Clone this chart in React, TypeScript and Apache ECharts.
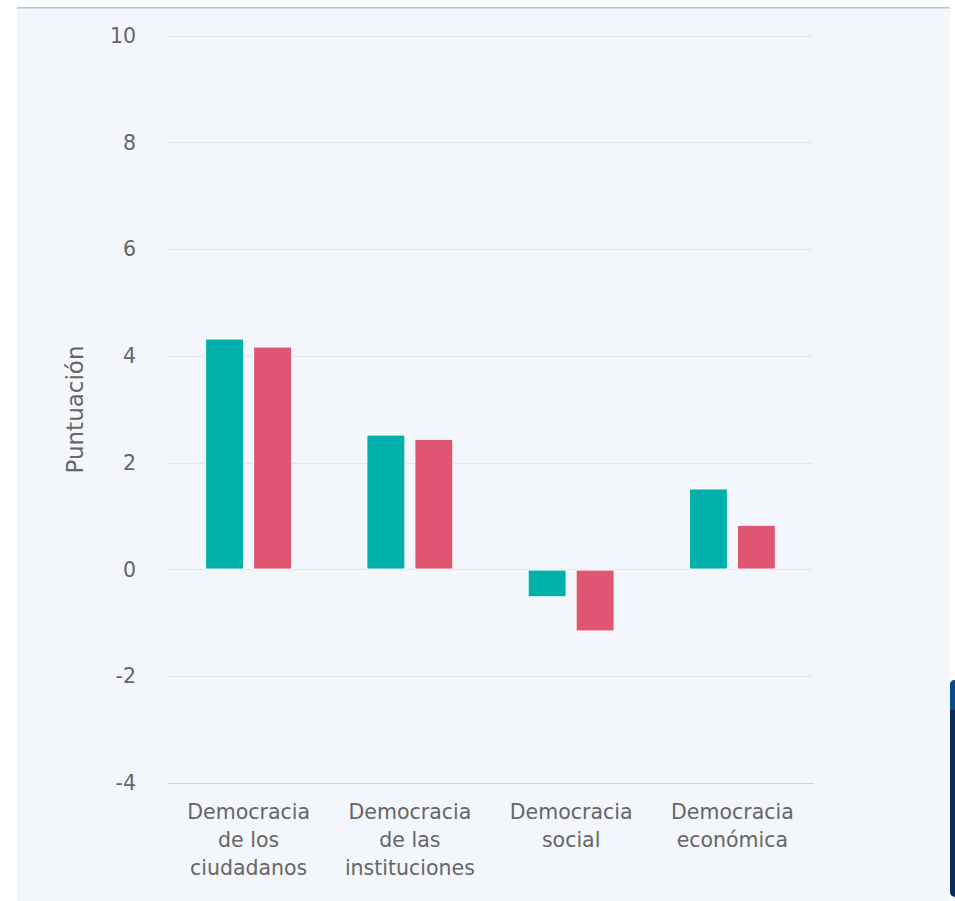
import React, { useEffect, useRef } from "react";
import * as echarts from "echarts";

const categories = [
  "Democracia\nde los\nciudadanos",
  "Democracia\nde las\ninstituciones",
  "Democracia\nsocial",
  "Democracia\neconómica",
];
const seriesA = [4.33, 2.53, -0.52, 1.52];
const seriesB = [4.18, 2.45, -1.16, 0.84];
const yTicks = { min: -4, max: 10, interval: 2 };

export default function App() {
  const ref = useRef<HTMLDivElement>(null);
  useEffect(() => {
    document.body.style.margin = "0";
    const chart = echarts.init(ref.current!, undefined, { renderer: "svg" });
    chart.setOption({
      animation: false,
      backgroundColor: "#ffffff",
      graphic: [
        { type: "rect", shape: { x: 17, y: 8, width: 933, height: 893 }, style: { fill: "#f3f6fa" }, z: -10 },
        { type: "rect", shape: { x: 17, y: 7, width: 933, height: 1.5 }, style: { fill: "#a3d0d8" }, z: -9 },
        { type: "rect", shape: { x: 950, y: 680, width: 10, height: 217, r: [5, 0, 0, 5] }, style: { fill: "#0b2a5e" }, z: -9 },
        { type: "rect", shape: { x: 950, y: 680, width: 10, height: 30, r: [5, 0, 0, 0] }, style: { fill: "#0a4a8f" }, z: -8 },
      ],
      grid: { left: 168, right: 142, top: 36, bottom: 118, containLabel: false },
      xAxis: {
        type: "category",
        data: categories,
        axisLine: { show: true, onZero: false, lineStyle: { color: "#ccd6eb", width: 1 } },
        axisTick: { show: false },
        axisLabel: {
          color: "#666666",
          fontFamily: "DejaVu Sans",
          fontSize: 20.5,
          lineHeight: 28,
          margin: 15,
          interval: 0,
        },
      },
      yAxis: {
        type: "value",
        min: yTicks.min,
        max: yTicks.max,
        interval: yTicks.interval,
        name: "Puntuación",
        nameLocation: "middle",
        nameGap: 82,
        nameTextStyle: { color: "#666666", fontFamily: "DejaVu Sans", fontSize: 23 },
        axisLine: { show: false },
        axisTick: { show: false },
        axisLabel: { color: "#666666", fontFamily: "DejaVu Sans", fontSize: 20.5, margin: 32 },
        splitLine: { lineStyle: { color: "#e6e6e6", width: 1 } },
      },
      series: [
        {
          type: "bar",
          data: seriesA,
          barWidth: 39,
          barGap: "23%",
          itemStyle: { color: "#00b0ab", borderColor: "#ffffff", borderWidth: 1 },
        },
        {
          type: "bar",
          data: seriesB,
          barWidth: 39,
          itemStyle: { color: "#e05571", borderColor: "#ffffff", borderWidth: 1 },
        },
      ],
    });
    return () => chart.dispose();
  }, []);
  return <div ref={ref} style={{ width: 955, height: 901 }} />;
}
